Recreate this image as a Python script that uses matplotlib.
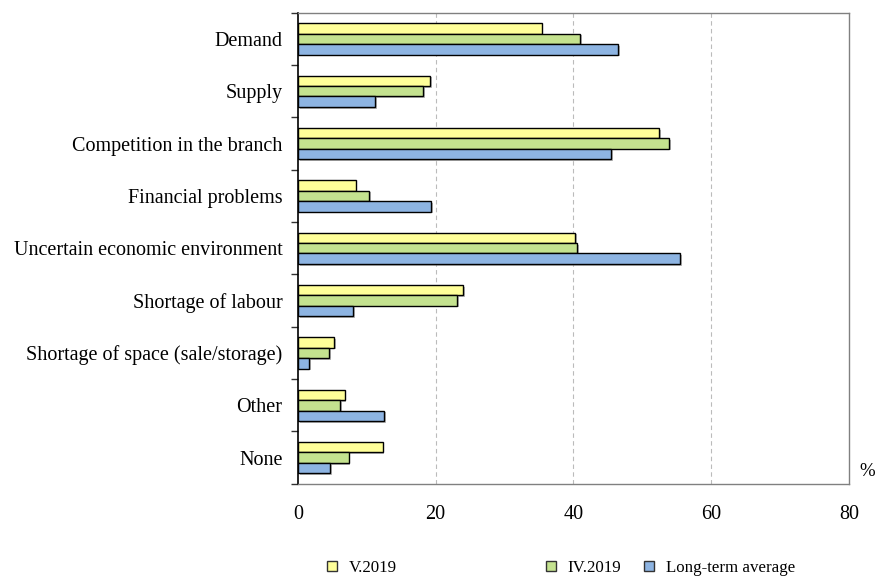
import matplotlib
matplotlib.use("Agg")
import matplotlib.pyplot as plt
import matplotlib.patheffects as pe
from matplotlib.lines import Line2D
import numpy as np

plt.rcParams['font.family'] = ['Liberation Serif', 'DejaVu Serif']

categories = ["Demand", "Supply", "Competition in the branch", "Financial problems",
              "Uncertain economic environment", "Shortage of labour",
              "Shortage of space (sale/storage)", "Other", "None"]
v2019 = [35.4, 19.2, 52.5, 8.4, 40.3, 24.0, 5.3, 6.8, 12.3]
iv2019 = [41.0, 18.2, 53.9, 10.4, 40.6, 23.1, 4.5, 6.1, 7.4]
long_term = [46.5, 11.2, 45.5, 19.4, 55.5, 8.0, 1.6, 12.5, 4.7]
series_names = ["V.2019", "IV.2019", "Long-term average"]
colors = ["#FFFF99", "#C4E28F", "#8DB4E2"]
xticks = [0, 20, 40, 60, 80]

fig = plt.figure(figsize=(8.76, 5.78), dpi=100)
ax = fig.add_axes([0.340, 0.163, 0.629, 0.815])

n = len(categories)
y = np.arange(n)
h = 0.2
shadow = [pe.SimplePatchShadow(offset=(1.2, -1.2), shadow_rgbFace="#888888", alpha=0.6), pe.Normal()]
for i, (vals, c) in enumerate(zip([v2019, iv2019, long_term], colors)):
    ax.barh(y + (i - 1) * h, vals, height=h, color=c, edgecolor="black",
            linewidth=1.0, zorder=3, path_effects=shadow)

ax.set_ylim(n - 0.5, -0.5)
ax.set_xlim(0, 80)
ax.set_xticks(xticks)
ax.set_xticklabels([str(t) for t in xticks], fontsize=14.5)
ax.tick_params(axis='x', length=0, pad=15)

# category labels between boundary ticks
ax.set_yticks(np.arange(n + 1) - 0.5)
ax.set_yticklabels([])
ax.tick_params(axis='y', length=5, width=1, direction='out', color='#333333')
ax.set_yticks(y, minor=True)
ax.set_yticklabels(categories, minor=True, fontsize=14.5)
ax.tick_params(axis='y', which='minor', length=0, pad=11)

for xv in [20, 40, 60]:
    ax.axvline(xv, color="#BBBBBB", linestyle=(0, (4, 3)), linewidth=0.8, zorder=1)

for side in ["top", "right", "bottom"]:
    ax.spines[side].set_color("#808080")
    ax.spines[side].set_linewidth(1.0)
ax.spines["left"].set_color("black")
ax.spines["left"].set_linewidth(1.2)

fig.text(0.990, 0.185, "%", fontsize=13.5, ha="center", va="center")

handles = [Line2D([0], [0], marker='s', linestyle='none', markersize=7,
                  markerfacecolor=c, markeredgecolor='#333333', markeredgewidth=1.0)
           for c in colors]
leg_x = [0.369, 0.619, 0.731]
for hx, hnd, name in zip(leg_x, handles, series_names):
    fig.legend([hnd], [name], loc='center left', bbox_to_anchor=(hx, 0.017),
               frameon=False, fontsize=12.2, handletextpad=0.5, handlelength=1.0,
               borderaxespad=0, borderpad=0)

fig.savefig("out.png", dpi=100)
